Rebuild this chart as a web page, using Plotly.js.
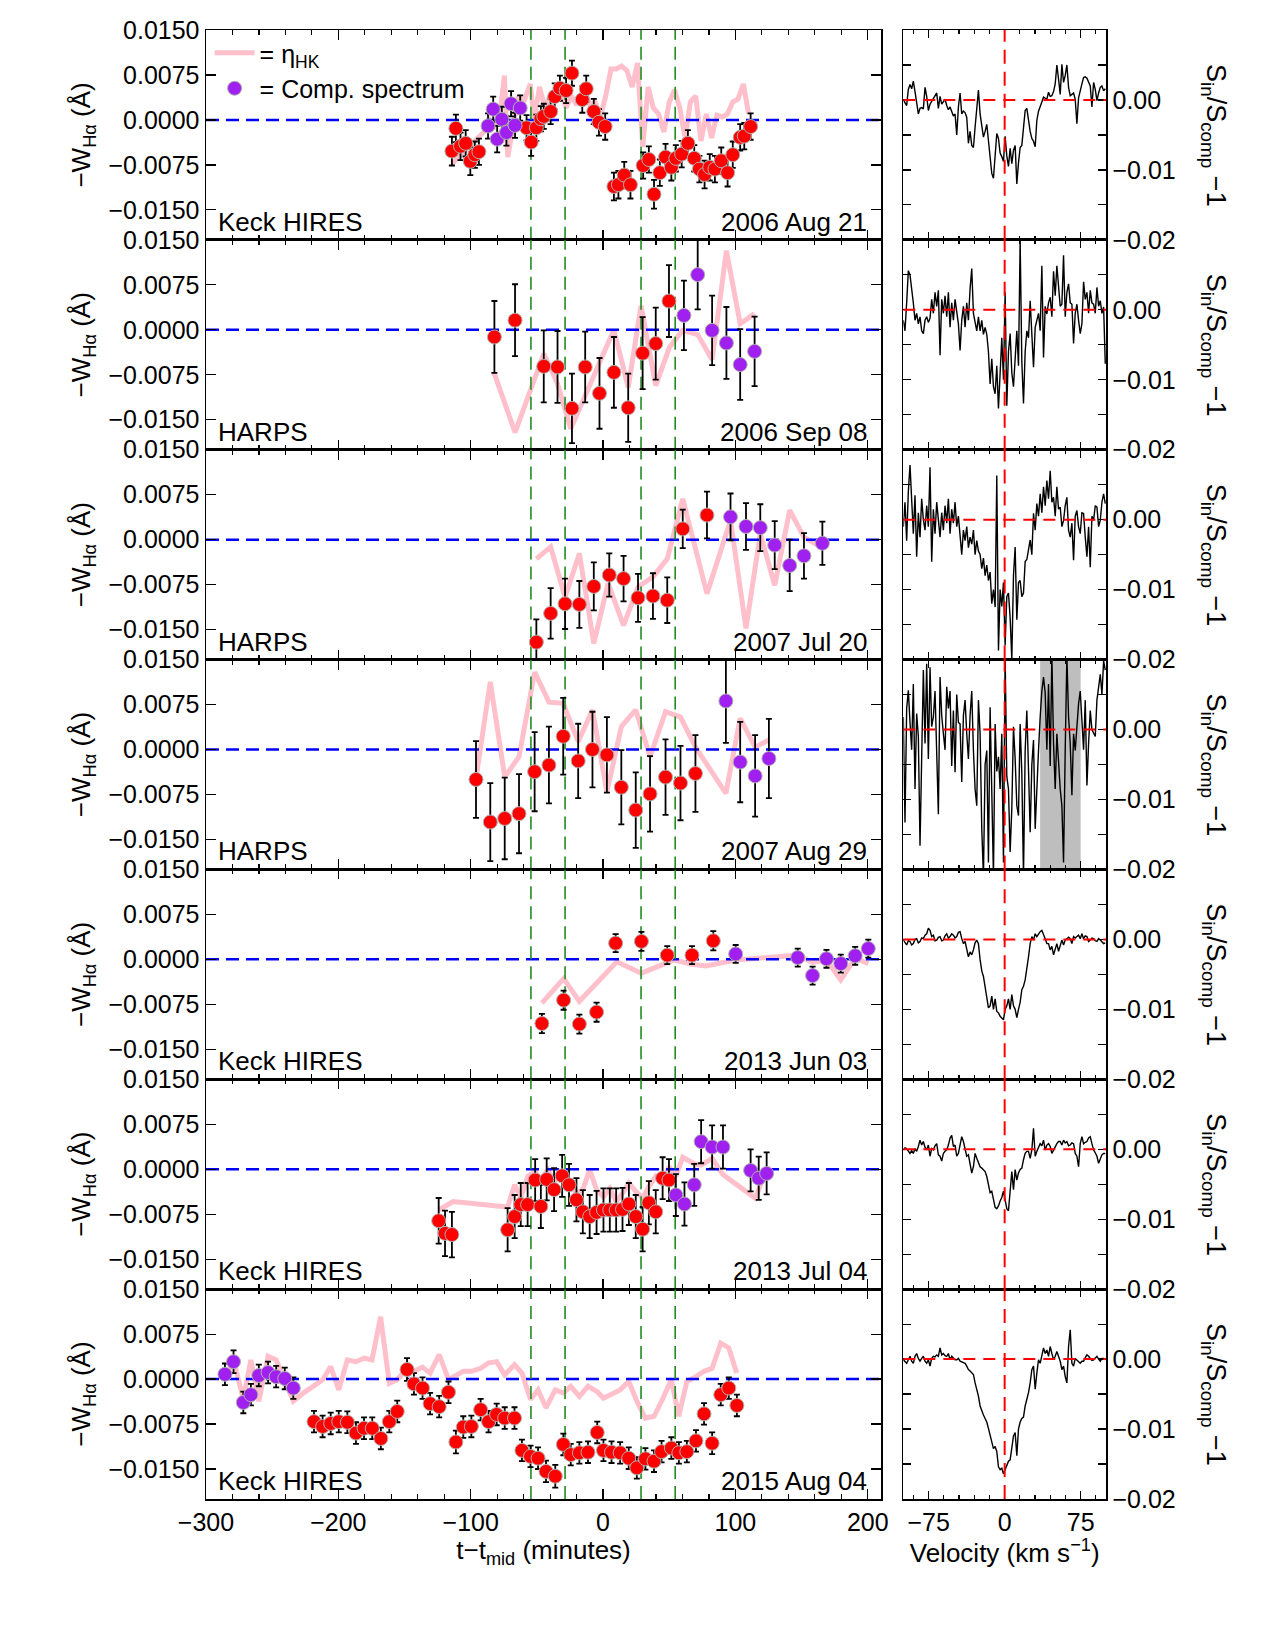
<!DOCTYPE html>
<html><head><meta charset="utf-8">
<script src="https://cdn.plot.ly/plotly-3.0.1.min.js"></script>
<style>body{margin:0;background:#fff}#chart{width:1275px;height:1650px}</style>
</head><body><div id="chart"></div>
<script>
// ---------------- axis ranges / ticks ----------------
const tRange = [-300, 210];          // minutes
const wRange = [-0.02, 0.015];       // -W_Halpha (A)
const vRange = [-100, 100];          // km/s
const sRange = [-0.02, 0.01];        // S_in/S_comp - 1
const sTickVals = [-0.02, -0.01, 0];
const sTickText = ['−0.02', '−0.01', '0.00'];
const contactTimes = [-54.5, -28.7, 28.7, 54.5];
const grayBand = [35, 75];           // km/s, masked region (2007 Aug 29)
const velStart = -100, velStep = 1.647;

const instruments = ['Keck HIRES', 'HARPS', 'HARPS', 'HARPS', 'Keck HIRES', 'Keck HIRES', 'Keck HIRES'];
const dates = ['2006 Aug 21', '2006 Sep 08', '2007 Jul 20', '2007 Aug 29', '2013 Jun 03', '2013 Jul 04', '2015 Aug 04'];

// ---------------- 2006 Aug 21 ----------------
const t1r = [-114.2, -111.2, -107.7, -103.8, -100.3, -96.9, -93.8, -57.8, -54.3, -50.4, -47.0, -44.8, -39.6, -36.5, -32.6, -27.9, -23.5, -15.7, -12.7, -7.0, -3.1, 1.6, 8.2, 11.6, 16.0, 20.7, 30.3, 34.6, 38.5, 42.9, 47.2, 51.6, 55.0, 59.4, 64.1, 68.9, 72.8, 76.7, 80.6, 84.5, 89.3, 94.1, 98.0, 103.6, 106.7, 111.5];
const w1r = [-0.0052, -0.0014, -0.0044, -0.0039, -0.0069, -0.0058, -0.0053, -0.0013, -0.0037, -0.0013, 0.0002, 0.0006, 0.0014, 0.0039, 0.0053, 0.0049, 0.0078, 0.0034, 0.0052, 0.0014, -0.0004, -0.0011, -0.0111, -0.0108, -0.0092, -0.0108, -0.0076, -0.0066, -0.0124, -0.0088, -0.0062, -0.0079, -0.0064, -0.0057, -0.0039, -0.0064, -0.0082, -0.0091, -0.0079, -0.0082, -0.0068, -0.0088, -0.0058, -0.0029, -0.0027, -0.0011];
const e1r = [0.0024, 0.0023, 0.0023, 0.0022, 0.0023, 0.0022, 0.0022, 0.0021, 0.0023, 0.0022, 0.0021, 0.0021, 0.0021, 0.0022, 0.0021, 0.0021, 0.0021, 0.0022, 0.0022, 0.0021, 0.0022, 0.0022, 0.0023, 0.0023, 0.0022, 0.0023, 0.0022, 0.0022, 0.0024, 0.0022, 0.0022, 0.0022, 0.0022, 0.0022, 0.0022, 0.0022, 0.0022, 0.0023, 0.0022, 0.0022, 0.0022, 0.0023, 0.0022, 0.0022, 0.0022, 0.0022];
const t1p = [-86.9, -83.0, -80.0, -76.5, -73.0, -69.5, -66.5, -62.6];
const w1p = [-0.0010, 0.0018, -0.0032, 0.0001, -0.0021, 0.0027, -0.0009, 0.0020];
const e1p = [0.0021, 0.0021, 0.0022, 0.0021, 0.0022, 0.0021, 0.0021, 0.0021];
const t1h = [-114, -108, -100, -95, -90, -86, -82, -78, -74.5, -72, -68, -64, -60, -55, -52, -48, -44, -40, -36, -32, -28, -24, -20, -14, -10, -6, -2, 2, 6, 10, 14, 18, 22, 26, 30, 34, 38, 42, 46, 50, 54, 58, 62, 66, 70, 74, 78, 82, 86, 90, 94, 98, 102, 106, 110];
const h1 = [-0.0073, -0.0060, -0.0040, -0.0030, -0.0020, 0.0000, -0.0010, 0.0010, 0.0074, -0.0062, -0.0010, 0.0040, 0.0030, 0.0060, 0.0000, 0.0055, 0.0020, 0.0040, 0.0035, 0.0050, 0.0020, 0.0040, 0.0025, 0.0050, 0.0025, 0.0030, 0.0005, 0.0040, 0.0085, 0.0085, 0.0090, 0.0082, 0.0055, 0.0095, -0.0045, 0.0055, 0.0020, 0.0010, -0.0020, 0.0030, 0.0050, 0.0020, -0.0030, 0.0030, 0.0040, -0.0035, 0.0010, -0.0030, 0.0008, 0.0005, 0.0010, 0.0030, 0.0035, 0.0060, 0.0010];

// ---------------- 2006 Sep 08 ----------------
const t2r = [-82.1, -66.5, -44.8, -34.4, -23.5, -13.5, -2.7, 8.2, 19.0, 29.9, 39.8, 49.8];
const w2r = [-0.0012, 0.0016, -0.0061, -0.0062, -0.0131, -0.0062, -0.0106, -0.0071, -0.0130, -0.0039, -0.0023, 0.0048];
const e2r = [0.0060, 0.0060, 0.0060, 0.0060, 0.0058, 0.0059, 0.0059, 0.0059, 0.0057, 0.0060, 0.0060, 0.0060];
const t2p = [61.1, 71.5, 82.4, 93.2, 103.6, 114.5];
const w2p = [0.0024, 0.0092, -0.0001, -0.0022, -0.0058, -0.0036];
const e2p = [0.0058, 0.0058, 0.0058, 0.0060, 0.0059, 0.0058];
const t2h = [-82.5, -66.5, -44.8, -34.4, -24.4, -13.5, -2.7, 8.2, 19.0, 28.7, 39.8, 50, 60, 71.5, 82.4, 93.2, 103.6, 114.5];
const h2 = [-0.0071, -0.0171, -0.0040, -0.0090, -0.0165, -0.0110, -0.0060, 0.0000, -0.0096, 0.0040, -0.0093, -0.0030, -0.0001, -0.0008, -0.0050, 0.0132, 0.0010, 0.0027];

// ---------------- 2007 Jul 20 ----------------
const t3r = [-50.4, -39.6, -28.7, -17.9, -7.0, 4.7, 15.5, 26.4, 37.7, 48.5, 60.2, 78.5];
const w3r = [-0.0171, -0.0123, -0.0107, -0.0108, -0.0078, -0.0059, -0.0065, -0.0097, -0.0094, -0.0101, 0.0018, 0.0041];
const e3r = [0.0038, 0.0042, 0.0042, 0.0039, 0.0040, 0.0036, 0.0038, 0.0040, 0.0038, 0.0038, 0.0032, 0.0039];
const t3p = [96.3, 108.0, 118.8, 129.7, 141.0, 151.8, 165.7];
const w3p = [0.0038, 0.0022, 0.0020, -0.0009, -0.0043, -0.0027, -0.0006];
const e3p = [0.0039, 0.0039, 0.0039, 0.0040, 0.0043, 0.0038, 0.0036];
const t3h = [-50.4, -39.6, -28.7, -17.9, -7.0, 3.8, 15.5, 26.4, 37.7, 48.5, 60.2, 78.5, 96.3, 108.0, 118.8, 129.7, 141.0, 151.8, 162.0];
const h3 = [-0.0032, -0.0012, -0.0096, -0.0023, -0.0173, -0.0073, -0.0143, -0.0079, -0.0062, -0.0032, 0.0068, -0.0090, 0.0032, -0.0148, 0.0010, -0.0076, 0.0049, 0.0004, -0.0009];

// ---------------- 2007 Aug 29 ----------------
const t4r = [-96.0, -85.2, -74.3, -63.5, -51.7, -40.9, -30.1, -18.8, -8.0, 2.9, 13.8, 24.7, 35.5, 47.2, 58.5, 69.8];
const w4r = [-0.0050, -0.0121, -0.0115, -0.0107, -0.0037, -0.0026, 0.0022, -0.0019, 0.0000, -0.0009, -0.0063, -0.0101, -0.0074, -0.0046, -0.0056, -0.0040];
const e4r = [0.0064, 0.0065, 0.0068, 0.0066, 0.0066, 0.0064, 0.0064, 0.0062, 0.0063, 0.0063, 0.0062, 0.0063, 0.0063, 0.0063, 0.0062, 0.0064];
const t4p = [92.8, 103.6, 114.9, 125.3];
const w4p = [0.0081, -0.0021, -0.0044, -0.0015];
const e4p = [0.0070, 0.0067, 0.0068, 0.0066];
const t4h = [-96.0, -85.2, -74.3, -63.5, -51.7, -40.9, -30.1, -18.8, -8.0, 2.9, 13.8, 24.7, 35.5, 47.2, 58.5, 69.8, 92.8, 103.6, 114.9, 125.3];
const h4 = [-0.0048, 0.0113, -0.0046, -0.0012, 0.0129, 0.0079, 0.0077, 0.0013, 0.0066, -0.0071, 0.0038, 0.0066, -0.0012, 0.0063, 0.0054, 0.0004, -0.0073, 0.0052, 0.0004, 0.0016];

// ---------------- 2013 Jun 03 ----------------
const t5r = [-46.2, -29.8, -17.9, -4.9, 9.5, 29.0, 48.5, 67.2, 83.3];
const w5r = [-0.0107, -0.0068, -0.0108, -0.0088, 0.0027, 0.0030, 0.0007, 0.0007, 0.0031];
const e5r = [0.0016, 0.0016, 0.0016, 0.0016, 0.0015, 0.0016, 0.0015, 0.0015, 0.0016];
const t5p = [100.2, 147.1, 158.3, 168.8, 179.6, 190.5, 200.4];
const w5p = [0.0009, 0.0003, -0.0027, 0.0001, -0.0007, 0.0006, 0.0018];
const e5p = [0.0015, 0.0015, 0.0015, 0.0015, 0.0015, 0.0015, 0.0015];
const t5h = [-46.2, -29.8, -17.9, 10.4, 29.0, 53.7, 67.2, 77.6, 100.2, 147.1, 158.3, 168.8, 179.6, 190.5, 200.4];
const h5 = [-0.0073, -0.0032, -0.0070, -0.0004, -0.0023, -0.0001, -0.0008, -0.0011, -0.0001, 0.0007, -0.0005, -0.0001, -0.0034, 0.0002, -0.0007];

// ---------------- 2013 Jul 04 ----------------
const t6r = [-124.2, -119.4, -114.2, -72.1, -66.8, -62.2, -57.0, -51.3, -47.0, -42.6, -37.0, -30.9, -25.7, -20.1, -15.3, -10.1, -4.9, 0.3, 5.1, 9.9, 14.7, 19.5, 24.7, 29.9, 34.6, 39.8, 45.0, 49.8];
const w6r = [-0.0086, -0.0107, -0.0109, -0.0101, -0.0079, -0.0059, -0.0059, -0.0018, -0.0062, -0.0017, -0.0034, -0.0011, -0.0026, -0.0051, -0.0071, -0.0079, -0.0072, -0.0068, -0.0068, -0.0068, -0.0067, -0.0058, -0.0079, -0.0100, -0.0056, -0.0071, -0.0015, -0.0018];
const e6r = [0.0038, 0.0038, 0.0038, 0.0036, 0.0036, 0.0036, 0.0036, 0.0035, 0.0036, 0.0035, 0.0036, 0.0035, 0.0035, 0.0036, 0.0036, 0.0036, 0.0036, 0.0036, 0.0036, 0.0036, 0.0036, 0.0035, 0.0036, 0.0037, 0.0036, 0.0036, 0.0035, 0.0035];
const t6p = [55.0, 61.5, 68.9, 74.1, 82.4, 90.6, 111.5, 117.6, 123.6];
const w6p = [-0.0043, -0.0058, -0.0026, 0.0046, 0.0037, 0.0037, -0.0002, -0.0015, -0.0007];
const e6p = [0.0035, 0.0036, 0.0035, 0.0036, 0.0036, 0.0036, 0.0035, 0.0036, 0.0035];
const t6h = [-124.2, -113.3, -72.1, -66.8, -62.2, -57.0, -51.3, -47.0, -41.7, -37.0, -30.9, -25.7, -20.1, -15.3, -10.1, -4.9, 0.3, 5.1, 9.9, 14.7, 19.5, 24.7, 29.9, 34.6, 39.8, 45.0, 49.8, 55.0, 60.2, 68.9, 74.1, 82.4, 90.6, 114.9, 123.6];
const h6 = [-0.0068, -0.0054, -0.0063, -0.0026, -0.0048, -0.0012, -0.0004, -0.0018, -0.0001, -0.0020, -0.0007, -0.0023, -0.0040, -0.0034, -0.0001, -0.0034, -0.0046, -0.0032, -0.0054, -0.0040, -0.0023, -0.0037, -0.0048, -0.0029, -0.0012, -0.0023, 0.0004, -0.0012, 0.0020, 0.0009, 0.0007, 0.0018, -0.0009, -0.0048, -0.0001];

// ---------------- 2015 Aug 04 ----------------
const t7r = [-218.4, -211.9, -205.8, -199.7, -193.2, -186.7, -180.6, -174.4, -167.9, -161.5, -155.5, -148.1, -142.9, -136.4, -130.7, -123.8, -116.8, -111.2, -105.6, -99.5, -92.5, -86.5, -80.4, -74.3, -66.9, -61.3, -54.8, -49.1, -43.1, -36.1, -30.0, -24.4, -17.9, -11.4, -4.4, 0.3, 6.4, 12.9, 19.4, 25.5, 32.0, 38.5, 44.2, 51.6, 57.3, 63.3, 70.2, 76.3, 82.4, 88.9, 95.0, 101.1];
const w7r = [-0.0071, -0.0079, -0.0074, -0.0071, -0.0072, -0.0090, -0.0082, -0.0082, -0.0099, -0.0071, -0.0054, 0.0016, -0.0008, -0.0015, -0.0041, -0.0046, -0.0022, -0.0105, -0.0080, -0.0079, -0.0051, -0.0071, -0.0059, -0.0065, -0.0065, -0.0119, -0.0129, -0.0132, -0.0154, -0.0162, -0.0109, -0.0126, -0.0123, -0.0122, -0.0089, -0.0119, -0.0122, -0.0123, -0.0132, -0.0148, -0.0133, -0.0137, -0.0121, -0.0115, -0.0123, -0.0121, -0.0103, -0.0058, -0.0107, -0.0026, -0.0015, -0.0044];
const e7r = [0.0018, 0.0018, 0.0018, 0.0018, 0.0018, 0.0018, 0.0018, 0.0018, 0.0018, 0.0018, 0.0018, 0.0019, 0.0018, 0.0018, 0.0018, 0.0018, 0.0018, 0.0019, 0.0018, 0.0018, 0.0018, 0.0018, 0.0018, 0.0018, 0.0018, 0.0018, 0.0018, 0.0018, 0.0018, 0.0019, 0.0018, 0.0018, 0.0018, 0.0018, 0.0018, 0.0018, 0.0018, 0.0018, 0.0018, 0.0018, 0.0018, 0.0018, 0.0018, 0.0018, 0.0018, 0.0018, 0.0018, 0.0018, 0.0018, 0.0018, 0.0018, 0.0018];
const t7p = [-285.7, -279.2, -271.8, -266.1, -260.1, -253.1, -247.0, -240.5, -234.0];
const w7p = [0.0008, 0.0029, -0.0039, -0.0026, 0.0006, 0.0011, 0.0004, 0.0001, -0.0015];
const e7p = [0.0018, 0.0019, 0.0018, 0.0018, 0.0018, 0.0018, 0.0018, 0.0018, 0.0018];
const t7h = [-284.8, -279.2, -271.8, -266.1, -260.1, -253.1, -247.0, -240.5, -234.0, -226.2, -218.4, -211.9, -205.8, -199.7, -193.2, -186.7, -180.6, -174.6, -168.1, -161.5, -155.5, -148.1, -142.9, -136.4, -130.7, -123.8, -116.8, -111.2, -105.6, -99.5, -92.5, -86.5, -80.4, -74.3, -66.9, -61.3, -54.8, -49.1, -43.1, -36.1, -30.0, -24.4, -17.9, -11.4, -4.4, 0.3, 6.4, 12.9, 19.4, 25.5, 32.0, 38.5, 44.2, 51.6, 57.2, 63.3, 70.2, 76.3, 82.4, 88.9, 95.0, 101.0];
const h7 = [0.0004, 0.0032, -0.0034, 0.0032, -0.0037, 0.0038, 0.0032, -0.0001, -0.0037, -0.0023, -0.0012, -0.0001, 0.0021, -0.0018, 0.0032, 0.0029, 0.0035, 0.0032, 0.0104, -0.0007, -0.0001, 0.0018, 0.0013, 0.0020, 0.0010, 0.0041, -0.0001, 0.0007, 0.0013, 0.0013, 0.0018, 0.0027, 0.0029, 0.0007, 0.0024, 0.0010, -0.0034, -0.0018, -0.0048, -0.0018, -0.0023, -0.0012, -0.0029, -0.0012, -0.0021, -0.0032, -0.0026, -0.0018, -0.0004, -0.0037, -0.0065, -0.0062, -0.0037, -0.0001, -0.0062, -0.0004, 0.0004, 0.0013, 0.0018, 0.0060, 0.0052, 0.0010];

// ---------------- in-transit / comparison spectra (uniform velocity grid) ----------------
const spec1 = [0.0000, -0.0005, -0.0008, 0.0015, 0.0022, 0.0016, 0.0027, 0.0012, -0.0005, -0.0020,
 -0.0012, -0.0011, -0.0013, 0.0018, 0.0005, -0.0015, -0.0006, -0.0002, 0.0004, 0.0008,
 0.0010, -0.0012, 0.0005, -0.0006, -0.0002, 0.0001, -0.0008, -0.0014, -0.0010, -0.0018,
 -0.0023, -0.0020, -0.0050, -0.0010, 0.0010, -0.0020, -0.0016, -0.0018, -0.0025, -0.0062,
 -0.0045, -0.0065, -0.0068, -0.0039, -0.0005, 0.0014, -0.0020, -0.0039, -0.0053, -0.0045,
 -0.0035, -0.0058, -0.0080, -0.0105, -0.0112, -0.0081, -0.0048, -0.0055, -0.0076, -0.0081,
 -0.0088, -0.0052, -0.0080, -0.0095, -0.0069, -0.0091, -0.0072, -0.0065, -0.0120, -0.0090,
 -0.0068, -0.0065, -0.0040, -0.0015, -0.0012, -0.0029, -0.0045, -0.0055, -0.0059, -0.0067,
 -0.0029, -0.0016, -0.0008, -0.0003, 0.0004, 0.0003, 0.0001, 0.0011, 0.0005, 0.0006,
 0.0012, 0.0023, 0.0050, 0.0030, 0.0008, 0.0051, 0.0025, 0.0035, 0.0050, 0.0018,
 0.0006, 0.0008, 0.0010, 0.0001, -0.0034, 0.0003, 0.0015, 0.0023, 0.0032, 0.0033,
 0.0031, 0.0026, 0.0020, -0.0010, 0.0025, 0.0015, -0.0001, 0.0010, 0.0018, 0.0020,
 0.0013, 0.0016];
const spec2 = [-0.0015, -0.0030, 0.0010, 0.0056, 0.0050, 0.0032, 0.0010, -0.0015, -0.0005, -0.0020,
 -0.0010, -0.0030, -0.0034, -0.0015, -0.0010, -0.0018, -0.0012, 0.0015, -0.0005, 0.0025,
 0.0005, 0.0028, -0.0065, 0.0015, -0.0005, 0.0020, -0.0010, 0.0025, -0.0025, 0.0010,
 -0.0015, 0.0015, -0.0005, -0.0020, -0.0058, -0.0015, 0.0005, -0.0025, 0.0010, -0.0015,
 0.0030, 0.0059, -0.0005, -0.0020, -0.0030, -0.0010, -0.0030, -0.0015, -0.0035, -0.0025,
 -0.0035, -0.0060, -0.0106, -0.0070, -0.0110, -0.0120, -0.0080, -0.0141, -0.0090, -0.0040,
 -0.0100, 0.0025, -0.0137, -0.0060, -0.0034, -0.0090, -0.0110, -0.0065, -0.0030, -0.0080,
 0.0099, -0.0074, -0.0134, -0.0060, -0.0030, -0.0040, 0.0013, -0.0035, -0.0082, -0.0025,
 -0.0015, -0.0005, -0.0030, 0.0063, -0.0068, 0.0005, -0.0006, 0.0010, 0.0018, -0.0010,
 0.0055, 0.0020, 0.0063, 0.0030, 0.0005, 0.0008, 0.0078, -0.0010, 0.0025, 0.0037,
 0.0010, 0.0008, -0.0048, -0.0005, 0.0008, -0.0015, -0.0034, -0.0020, 0.0040, 0.0015,
 0.0025, -0.0005, 0.0028, 0.0010, 0.0008, -0.0005, 0.0032, 0.0005, 0.0013, -0.0005,
 0.0004, -0.0077];
const spec3 = [-0.0010, 0.0025, -0.0030, 0.0040, 0.0078, 0.0015, -0.0020, 0.0035, -0.0053, 0.0010,
 -0.0025, 0.0030, 0.0000, -0.0015, 0.0020, -0.0010, 0.0075, -0.0060, 0.0015, -0.0020,
 0.0025, 0.0000, -0.0025, 0.0010, -0.0015, 0.0020, -0.0005, 0.0030, -0.0020, 0.0015,
 -0.0005, 0.0025, -0.0010, 0.0005, -0.0025, -0.0050, -0.0015, -0.0030, -0.0010, -0.0040,
 -0.0025, -0.0035, -0.0015, -0.0050, -0.0030, -0.0045, -0.0050, -0.0070, -0.0055, -0.0080,
 -0.0065, -0.0087, -0.0075, -0.0120, -0.0100, -0.0125, 0.0063, -0.0187, -0.0100, -0.0124,
 -0.0090, -0.0180, -0.0110, -0.0105, -0.0140, -0.0200, -0.0080, -0.0039, -0.0143, -0.0090,
 -0.0087, -0.0110, -0.0105, -0.0060, -0.0057, -0.0045, -0.0029, -0.0050, 0.0009, -0.0015,
 0.0023, 0.0005, 0.0037, 0.0010, 0.0047, 0.0020, 0.0056, 0.0030, 0.0070, 0.0025,
 0.0032, 0.0005, 0.0047, 0.0015, 0.0018, -0.0010, -0.0001, 0.0020, 0.0032, -0.0015,
 -0.0025, -0.0005, -0.0058, 0.0005, 0.0013, -0.0010, -0.0020, 0.0010, 0.0009, -0.0025,
 -0.0053, -0.0010, -0.0068, 0.0005, -0.0001, 0.0020, 0.0018, -0.0010, -0.0001, 0.0025,
 0.0037, 0.0023];
const spec4 = [0.0018, -0.0133, 0.0030, 0.0056, 0.0010, -0.0029, 0.0065, -0.0085, 0.0023, -0.0010,
 -0.0166, -0.0030, 0.0085, -0.0020, 0.0094, -0.0042, 0.0089, 0.0004, 0.0018, 0.0055,
 -0.0052, -0.0121, 0.0075, 0.0020, -0.0006, -0.0029, 0.0061, 0.0030, 0.0055, -0.0052,
 0.0027, -0.0061, 0.0050, 0.0010, 0.0008, -0.0075, 0.0020, 0.0042, -0.0006, -0.0042,
 0.0020, 0.0055, -0.0030, -0.0085, -0.0109, 0.0042, -0.0006, -0.0142, -0.0210, -0.0050,
 -0.0030, -0.0190, 0.0032, -0.0123, -0.0210, 0.0008, -0.0060, -0.0039, -0.0085, -0.0006,
 -0.0190, 0.0105, -0.0067, -0.0085, -0.0175, -0.0113, 0.0004, -0.0042, -0.0109, -0.0123,
 0.0008, -0.0062, -0.0210, -0.0030, 0.0027, -0.0057, -0.0147, -0.0050, -0.0015, -0.0142,
 -0.0075, -0.0030, 0.0018, 0.0055, 0.0075, 0.0052, -0.0029, 0.0065, -0.0052, 0.0105,
 -0.0020, -0.0085, -0.0006, -0.0050, -0.0085, -0.0109, -0.0190, -0.0029, 0.0105, 0.0018,
 -0.0020, -0.0094, -0.0006, -0.0030, 0.0004, 0.0037, 0.0055, 0.0010, -0.0029, 0.0042,
 -0.0080, -0.0020, 0.0027, 0.0000, -0.0006, -0.0010, 0.0042, 0.0061, 0.0079, 0.0050,
 0.0098, 0.0085];
const spec5 = [-0.0001, -0.0005, -0.0008, -0.0002, -0.0003, -0.0008, -0.0006, 0.0000, 0.0001, -0.0005,
 -0.0003, 0.0002, 0.0001, 0.0006, 0.0008, 0.0016, 0.0013, 0.0004, 0.0006, -0.0002,
 -0.0001, 0.0003, 0.0004, -0.0002, -0.0001, 0.0005, 0.0008, 0.0002, 0.0004, 0.0008,
 0.0006, 0.0002, 0.0004, 0.0010, 0.0011, 0.0001, -0.0006, -0.0003, -0.0013, -0.0025,
 -0.0018, -0.0022, -0.0015, -0.0005, -0.0001, -0.0006, -0.0029, -0.0045, -0.0053, -0.0067,
 -0.0085, -0.0098, -0.0095, -0.0081, -0.0100, -0.0085, -0.0103, -0.0105, -0.0110, -0.0112,
 -0.0115, -0.0100, -0.0095, -0.0085, -0.0100, -0.0079, -0.0095, -0.0100, -0.0112, -0.0100,
 -0.0090, -0.0072, -0.0067, -0.0058, -0.0043, -0.0025, -0.0006, 0.0004, -0.0001, 0.0008,
 0.0004, 0.0008, 0.0011, 0.0013, 0.0008, 0.0001, -0.0006, -0.0006, -0.0015, -0.0010,
 -0.0022, -0.0012, -0.0006, -0.0017, -0.0010, -0.0001, -0.0008, -0.0001, 0.0001, 0.0003,
 0.0001, -0.0006, 0.0004, 0.0002, 0.0004, 0.0006, 0.0001, 0.0008, 0.0001, 0.0005,
 0.0004, -0.0003, -0.0001, 0.0002, 0.0001, -0.0002, -0.0003, 0.0001, -0.0001, -0.0004,
 -0.0006, -0.0005];
const spec6 = [-0.0001, 0.0002, 0.0001, -0.0003, -0.0006, -0.0002, -0.0006, 0.0001, -0.0003, 0.0004,
 0.0013, 0.0006, 0.0011, 0.0003, -0.0001, 0.0006, -0.0010, 0.0001, -0.0001, 0.0005,
 0.0008, -0.0008, -0.0010, -0.0017, -0.0006, -0.0003, -0.0001, 0.0006, 0.0016, 0.0020,
 0.0004, 0.0006, -0.0010, -0.0006, 0.0008, 0.0018, 0.0011, -0.0001, -0.0010, -0.0008,
 -0.0020, -0.0034, -0.0025, -0.0006, -0.0013, -0.0020, -0.0025, -0.0027, -0.0029, -0.0032,
 -0.0039, -0.0051, -0.0062, -0.0060, -0.0072, -0.0083, -0.0085, -0.0081, -0.0074, -0.0069,
 -0.0060, -0.0072, -0.0085, -0.0088, -0.0053, -0.0032, -0.0058, -0.0029, -0.0044, -0.0034,
 -0.0029, -0.0027, -0.0015, -0.0006, -0.0003, -0.0003, -0.0013, -0.0001, 0.0030, -0.0010,
 -0.0003, 0.0002, 0.0008, 0.0005, 0.0013, -0.0001, 0.0006, 0.0008, 0.0004, -0.0006,
 -0.0001, 0.0004, 0.0008, 0.0011, 0.0011, 0.0006, 0.0013, 0.0009, 0.0011, 0.0005,
 0.0006, 0.0009, 0.0008, -0.0006, -0.0010, -0.0025, 0.0008, 0.0018, 0.0008, 0.0010,
 0.0011, 0.0016, 0.0018, 0.0008, -0.0001, -0.0005, -0.0010, -0.0020, -0.0015, -0.0008,
 -0.0006, -0.0006];
const spec7 = [-0.0001, -0.0003, -0.0006, -0.0001, 0.0004, -0.0003, -0.0006, 0.0004, 0.0008, 0.0001,
 -0.0003, 0.0001, 0.0004, -0.0003, -0.0006, -0.0001, -0.0010, 0.0001, 0.0004, 0.0003,
 0.0006, 0.0004, 0.0016, 0.0006, 0.0008, 0.0005, 0.0004, 0.0008, -0.0001, 0.0004,
 0.0001, -0.0001, -0.0001, 0.0001, -0.0003, -0.0004, -0.0006, -0.0006, -0.0010, -0.0015,
 -0.0017, -0.0020, -0.0022, -0.0034, -0.0043, -0.0053, -0.0067, -0.0075, -0.0080, -0.0085,
 -0.0090, -0.0099, -0.0108, -0.0118, -0.0128, -0.0125, -0.0132, -0.0154, -0.0158, -0.0156,
 -0.0164, -0.0158, -0.0151, -0.0146, -0.0144, -0.0123, -0.0110, -0.0105, -0.0138, -0.0100,
 -0.0090, -0.0085, -0.0083, -0.0067, -0.0058, -0.0048, -0.0034, -0.0015, -0.0010, -0.0043,
 -0.0020, -0.0001, -0.0006, 0.0008, 0.0016, 0.0008, 0.0013, 0.0004, 0.0018, 0.0008,
 -0.0001, 0.0004, 0.0011, 0.0004, -0.0003, -0.0015, -0.0010, -0.0025, -0.0034, 0.0018,
 0.0042, -0.0006, -0.0010, 0.0001, -0.0001, -0.0004, -0.0006, -0.0003, -0.0003, 0.0002,
 0.0006, 0.0004, 0.0001, -0.0002, -0.0001, 0.0002, 0.0004, 0.0000, -0.0003, 0.0001,
 0.0001, -0.0001];

// ---------------- build ----------------
const panels = [
  {rt: t1r, rw: w1r, re: e1r, pt: t1p, pw: w1p, pe: e1p, ht: t1h, hw: h1, spec: spec1},
  {rt: t2r, rw: w2r, re: e2r, pt: t2p, pw: w2p, pe: e2p, ht: t2h, hw: h2, spec: spec2},
  {rt: t3r, rw: w3r, re: e3r, pt: t3p, pw: w3p, pe: e3p, ht: t3h, hw: h3, spec: spec3},
  {rt: t4r, rw: w4r, re: e4r, pt: t4p, pw: w4p, pe: e4p, ht: t4h, hw: h4, spec: spec4},
  {rt: t5r, rw: w5r, re: e5r, pt: t5p, pw: w5p, pe: e5p, ht: t5h, hw: h5, spec: spec5},
  {rt: t6r, rw: w6r, re: e6r, pt: t6p, pw: w6p, pe: e6p, ht: t6h, hw: h6, spec: spec6},
  {rt: t7r, rw: w7r, re: e7r, pt: t7p, pw: w7p, pe: e7p, ht: t7h, hw: h7, spec: spec7}
];

const FONT = 'Liberation Sans, Arial, Helvetica, sans-serif';
const PINK = '#FFC0CB', PURPLE = '#A020F0', RED = '#FF0000', GREEN = '#228B22';
const N = panels.length;
const traces = [];
const shapes = [];
const annotations = [];
const layout = {
  width: 1275, height: 1650,
  margin: {l: 206, r: 169, t: 30, b: 151, pad: 0},
  paper_bgcolor: 'white', plot_bgcolor: 'white',
  font: {family: FONT, size: 25, color: 'black'},
  showlegend: true,
  legend: {x: 0.004, y: 1.0, xanchor: 'left', yanchor: 'top', bgcolor: 'rgba(0,0,0,0)',
           font: {family: FONT, size: 25, color: 'black'}, itemwidth: 40, tracegroupgap: 0},
  shapes: shapes, annotations: annotations
};

const axBase = {showline: true, linecolor: 'black', linewidth: 1.5, mirror: 'allticks', ticks: 'inside',
  tickcolor: 'black', tickwidth: 1.2, showgrid: false, zeroline: false,
  tickfont: {family: FONT, size: 25, color: 'black'}};

const greenX = contactTimes.flatMap(c => [c, c, null]);
const greenY = contactTimes.flatMap(() => [wRange[0], wRange[1], null]);

for (let i = 0; i < N; i++) {
  const p = panels[i];
  const li = 2 * i + 1, ri = 2 * i + 2;
  const xa = li === 1 ? 'x' : 'x' + li, ya = li === 1 ? 'y' : 'y' + li;
  const xr = 'x' + ri, yr = 'y' + ri;
  const dom = [1 - (i + 1) / N, 1 - i / N];
  const last = i === N - 1;

  traces.push({type: 'scatter', mode: 'lines', x: p.ht, y: p.hw, xaxis: xa, yaxis: ya,
    line: {color: PINK, width: 5}, showlegend: false, hoverinfo: 'skip'});
  traces.push({type: 'scatter', mode: 'lines', x: tRange, y: [0, 0], xaxis: xa, yaxis: ya,
    line: {color: '#0000FF', width: 2.5, dash: '13px,7px'}, showlegend: false, hoverinfo: 'skip'});
  traces.push({type: 'scatter', mode: 'lines', x: greenX, y: greenY, xaxis: xa, yaxis: ya,
    line: {color: GREEN, width: 1.6, dash: '13px,7px'}, showlegend: false, hoverinfo: 'skip', connectgaps: false});
  traces.push({type: 'scatter', mode: 'markers', x: p.rt, y: p.rw, xaxis: xa, yaxis: ya,
    error_y: {type: 'data', array: p.re, visible: true, color: 'black', thickness: 1.8, width: 3},
    marker: {color: RED, size: 14, line: {color: '#B0B0B0', width: 1}}, showlegend: false});
  traces.push({type: 'scatter', mode: 'markers', x: p.pt, y: p.pw, xaxis: xa, yaxis: ya,
    error_y: {type: 'data', array: p.pe, visible: true, color: 'black', thickness: 1.8, width: 3},
    marker: {color: PURPLE, size: 14, line: {color: '#B0B0B0', width: 1}}, showlegend: false});
  traces.push({type: 'scatter', mode: 'lines', x0: velStart, dx: velStep, y: p.spec, xaxis: xr, yaxis: yr,
    line: {color: 'black', width: 1.4}, showlegend: false, hoverinfo: 'skip'});

  layout['xaxis' + (li === 1 ? '' : li)] = Object.assign({}, axBase, {
    domain: [0, 0.75], anchor: ya, range: tRange, tick0: 0, dtick: 100, ticklen: 10,
    minor: {ticks: 'inside', tickmode: 'linear', tick0: 0, dtick: 20, ticklen: 5, tickcolor: 'black', showgrid: false},
    showticklabels: last
  });
  layout['yaxis' + (li === 1 ? '' : li)] = Object.assign({}, axBase, {
    domain: dom, anchor: xa, range: wRange, tick0: 0, dtick: 0.0075, tickformat: '.4f', ticklen: 10,
    title: {text: '−W<sub>Hα</sub> (Å)', font: {family: FONT, size: 26, color: 'black'}, standoff: 10}
  });
  layout['xaxis' + ri] = Object.assign({}, axBase, {
    domain: [0.7748, 1], anchor: yr, range: vRange, tick0: 0, dtick: 75, ticklen: 8,
    minor: {ticks: 'inside', tickmode: 'linear', tick0: 0, dtick: 15, ticklen: 4, tickcolor: 'black', showgrid: false},
    showticklabels: last
  });
  layout['yaxis' + ri] = Object.assign({}, axBase, {
    domain: dom, anchor: xr, range: sRange, side: 'right', tickmode: 'array',
    tickvals: sTickVals, ticktext: sTickText, ticklen: 8,
    minor: {ticks: 'inside', tickmode: 'linear', tick0: 0, dtick: 0.005, ticklen: 8, tickcolor: 'black', showgrid: false}
  });

  shapes.push({type: 'line', xref: xr, yref: yr + ' domain', x0: 0, x1: 0, y0: 0, y1: 1,
    line: {color: RED, width: 2, dash: '14px,8px'}, layer: 'above'});
  shapes.push({type: 'line', xref: xr + ' domain', yref: yr, x0: 0, x1: 1, y0: 0, y1: 0,
    line: {color: RED, width: 2, dash: '12px,8px'}, layer: 'above'});

  annotations.push({xref: xa + ' domain', yref: ya + ' domain', x: 0, y: 0, xanchor: 'left', yanchor: 'bottom',
    xshift: 10, yshift: 1, text: instruments[i], showarrow: false, font: {family: FONT, size: 26, color: 'black'}});
  annotations.push({xref: xa + ' domain', yref: ya + ' domain', x: 1, y: 0, xanchor: 'right', yanchor: 'bottom',
    xshift: -12, yshift: 1, text: dates[i], showarrow: false, font: {family: FONT, size: 26, color: 'black'}});
  annotations.push({xref: 'paper', yref: 'paper', x: 1.12, y: (dom[0] + dom[1]) / 2, xanchor: 'center', yanchor: 'middle',
    textangle: 90, text: 'S<sub>in</sub>/S<sub>comp</sub> −1', showarrow: false, font: {family: FONT, size: 27, color: 'black'}});
}

shapes.push({type: 'rect', xref: 'x8', yref: 'y8 domain', x0: grayBand[0], x1: grayBand[1], y0: 0, y1: 1,
  fillcolor: '#BEBEBE', line: {width: 0}, layer: 'below'});

layout['xaxis' + (2 * N - 1)].title = {text: 't−t<sub>mid</sub> (minutes)', font: {family: FONT, size: 26, color: 'black'}, standoff: 6};
layout['xaxis' + (2 * N)].title = {text: 'Velocity (km s<sup>−1</sup>)', font: {family: FONT, size: 26, color: 'black'}, standoff: 6};

// legend proxies
traces.push({type: 'scatter', mode: 'lines', x: [null], y: [null], xaxis: 'x', yaxis: 'y',
  line: {color: PINK, width: 5}, name: '= η<sub>HK</sub>', showlegend: true});
traces.push({type: 'scatter', mode: 'markers', x: [null], y: [null], xaxis: 'x', yaxis: 'y',
  marker: {color: PURPLE, size: 14, line: {color: '#B0B0B0', width: 1}}, name: '= Comp. spectrum', showlegend: true});

Plotly.newPlot('chart', traces, layout, {staticPlot: true, displayModeBar: false});
</script></body></html>
